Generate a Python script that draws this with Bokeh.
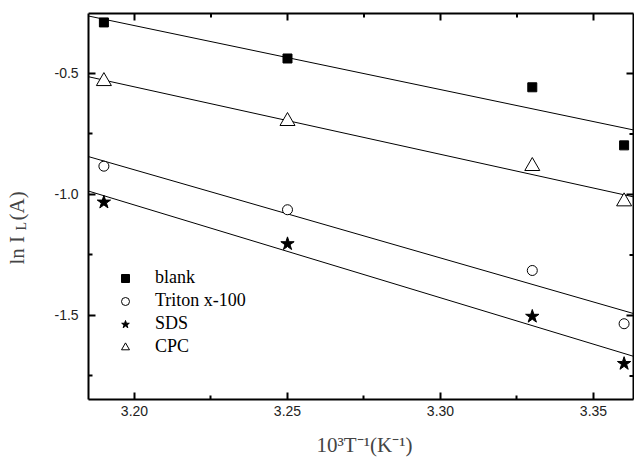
import numpy as np
from bokeh.plotting import figure
from bokeh.models import (Range1d, LinearAxis, FixedTicker, PrintfTickFormatter,
                          Legend, LegendItem, Label)
from bokeh.embed import file_html
from bokeh.resources import INLINE

# ---- data ----
inv_T = [3.19, 3.25, 3.33, 3.36]
blank = [-0.289, -0.438, -0.557, -0.797]
triton = [-0.883, -1.063, -1.314, -1.534]
sds = [-1.032, -1.204, -1.504, -1.699]
cpc = [-0.532, -0.697, -0.883, -1.029]
series_names = ["blank", "Triton x-100", "SDS", "CPC"]

x_major = [3.20, 3.25, 3.30, 3.35]
x_minor = [3.225, 3.275, 3.325]
y_major = [-0.5, -1.0, -1.5]
y_minor = [-0.75, -1.25, -1.75]

# axis box (data limits)
X0, X1 = 3.185, 3.36307
Y0, Y1 = -1.8471, -0.2521
# whole canvas range (the frame fills the page; axes sit at fixed locations)
XS, XE = 3.15621, 3.36340
YS, YE = -2.09091, -0.19835

W, H = 634, 458
p = figure(width=W, height=H, output_backend="svg", toolbar_location=None,
           x_range=Range1d(XS, XE), y_range=Range1d(YS, YE),
           min_border=0, x_axis_location=None, y_axis_location=None)
p.background_fill_color = "white"
p.border_fill_color = "white"
p.outline_line_color = None
p.xgrid.visible = False
p.ygrid.visible = False

px_x = W / (XE - XS)   # pixels per x unit
px_y = H / (YE - YS)   # pixels per y unit


def style(ax):
    ax.axis_line_width = 2
    ax.axis_line_color = "black"
    ax.major_tick_in = 7
    ax.major_tick_out = 0
    ax.minor_tick_in = 4
    ax.minor_tick_out = 0
    ax.major_tick_line_width = 2
    ax.minor_tick_line_width = 2
    ax.major_tick_line_color = "black"
    ax.minor_tick_line_color = "black"
    ax.major_label_text_font = "Liberation Sans"
    ax.major_label_text_font_size = "14px"
    ax.major_label_text_color = "#222222"


bx = LinearAxis(ticker=FixedTicker(ticks=x_major, minor_ticks=x_minor),
                formatter=PrintfTickFormatter(format="%.2f"),
                fixed_location=Y0, bounds=(X0, X1))
style(bx)
bx.major_label_standoff = 7
p.add_layout(bx, "below")

ly = LinearAxis(ticker=FixedTicker(ticks=y_major, minor_ticks=y_minor),
                formatter=PrintfTickFormatter(format="%.1f"),
                fixed_location=X0, bounds=(Y0, Y1))
style(ly)
ly.major_label_standoff = 10
p.add_layout(ly, "left")

# top and right frame lines with inward ticks (no labels)
p.segment(x0=[X0, X1], y0=[Y1, Y0], x1=[X1, X1], y1=[Y1, Y1], line_color="black", line_width=2)
top_major_len, top_minor_len = 7 / px_y, 4 / px_y
p.segment(x0=x_major, y0=[Y1] * len(x_major), x1=x_major, y1=[Y1 - top_major_len] * len(x_major),
          line_color="black", line_width=2)
p.segment(x0=x_minor, y0=[Y1] * len(x_minor), x1=x_minor, y1=[Y1 - top_minor_len] * len(x_minor),
          line_color="black", line_width=2)
r_major_len, r_minor_len = 7 / px_x, 4 / px_x
p.segment(x0=[X1] * len(y_major), y0=y_major, x1=[X1 - r_major_len] * len(y_major), y1=y_major,
          line_color="black", line_width=2)
p.segment(x0=[X1] * len(y_minor), y0=y_minor, x1=[X1 - r_minor_len] * len(y_minor), y1=y_minor,
          line_color="black", line_width=2)

# fit lines
xs_fit = np.array([X0, X1])
for ys in [blank, triton, sds, cpc]:
    k, b = np.polyfit(inv_T, ys, 1)
    p.line(xs_fit, k * xs_fit + b, line_color="black", line_width=1)

# data markers
r1 = p.scatter(inv_T, blank, marker="square", size=9, fill_color="black", line_color="black")
r2 = p.scatter(inv_T, triton, marker="circle", size=10, fill_color="white", line_color="black", line_width=1)
r3 = p.scatter(inv_T, sds, marker="star", size=14, fill_color="black", line_color="black")
r4 = p.scatter(inv_T, cpc, marker="triangle", size=15, fill_color="white", line_color="black", line_width=1)

legend = Legend(items=[LegendItem(label=n, renderers=[r]) for n, r in zip(series_names, [r1, r2, r3, r4])],
                location=(115, 101), glyph_width=20, glyph_height=20, spacing=2, padding=0, margin=0,
                label_standoff=20, label_height=20, label_text_font="Liberation Serif",
                label_text_font_size="18px", label_text_color="black",
                border_line_alpha=0, background_fill_alpha=0)
p.add_layout(legend)

# axis titles
FONT = "Liberation Serif"
p.add_layout(Label(x=16, y=194, x_units="screen", y_units="screen", text="ln  I", angle=np.pi / 2,
                   text_font=FONT, text_font_size="21px", text_align="left", text_baseline="alphabetic"))
p.add_layout(Label(x=21, y=228, x_units="screen", y_units="screen", text="L", angle=np.pi / 2,
                   text_font=FONT, text_font_size="14px", text_align="left", text_baseline="alphabetic"))
p.add_layout(Label(x=16, y=238, x_units="screen", y_units="screen", text="(A)", angle=np.pi / 2,
                   text_font=FONT, text_font_size="21px", text_align="left", text_baseline="alphabetic"))
p.add_layout(Label(x=364, y=14, x_units="screen", y_units="screen", text="10³T⁻¹(K⁻¹)",
                   text_font=FONT, text_font_size="21px", text_align="center", text_baseline="alphabetic"))

open("out.html", "w").write(file_html(p, INLINE))
